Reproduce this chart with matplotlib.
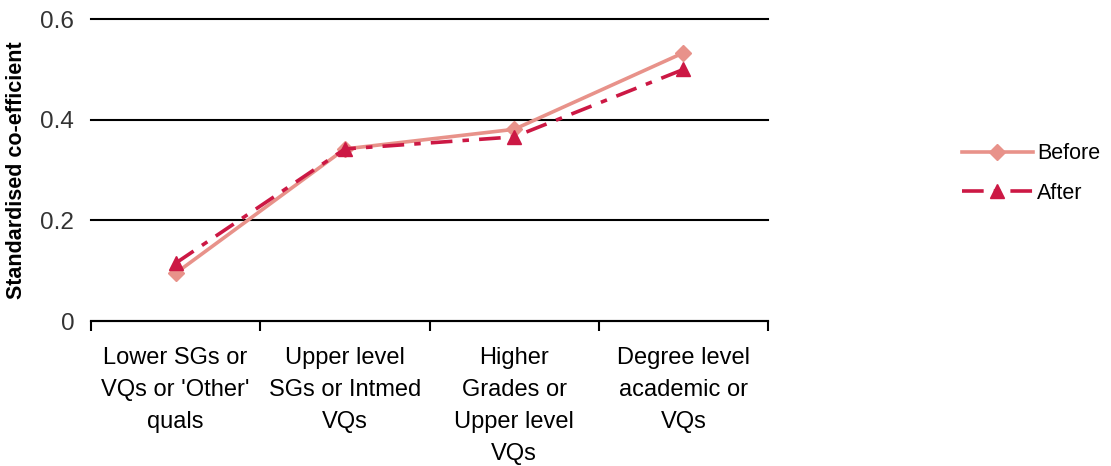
import numpy as np
import matplotlib.pyplot as plt

plt.rcParams['font.family'] = ['Liberation Sans', 'DejaVu Sans']

categories = ["Lower SGs or\nVQs or 'Other'\nquals",
              "Upper level\nSGs or Intmed\nVQs",
              "Higher\nGrades or\nUpper level\nVQs",
              "Degree level\nacademic or\nVQs"]
before = [0.095, 0.342, 0.381, 0.533]
after = [0.115, 0.342, 0.366, 0.500]

fig = plt.figure(figsize=(11.11, 4.66), dpi=100)
ax = fig.add_axes([0.0819, 0.311, 0.6094, 0.648])

x = np.arange(len(categories))
ax.plot(x, before, color='#E8928A', lw=2.6, marker='D', ms=8, label='Before')
ax.plot(x, after, color='#CC1844', lw=2.6, marker='^', ms=10,
        dashes=(6, 2.8, 1.8, 2.8), label='After')

ax.set_xlim(-0.5, 3.5)
ax.set_ylim(0, 0.6)
ax.set_yticks([0, 0.2, 0.4, 0.6])
ax.set_yticklabels(['0', '0.2', '0.4', '0.6'])
ax.yaxis.grid(True, color='black', lw=1.5)
for gl in ax.get_ygridlines():
    gl.set_clip_on(False)
ax.set_axisbelow(True)

ax.set_xticks(x)
ax.set_xticklabels(categories, fontsize=17, linespacing=1.58, va='top')
ax.set_xticks(np.arange(-0.5, 4, 1), minor=True)
ax.tick_params(axis='x', which='major', length=0, pad=19)
ax.tick_params(axis='x', which='minor', length=7, width=1.5, direction='out')
ax.tick_params(axis='y', length=0, labelsize=17.5, labelcolor='#333333', pad=12)

for s in ['top', 'right', 'left']:
    ax.spines[s].set_visible(False)
ax.spines['bottom'].set_linewidth(1.5)

ax.set_ylabel('Standardised co-efficient', fontsize=15.5, fontweight='bold', labelpad=10)

fig.legend(loc='center left', bbox_to_anchor=(0.848, 0.628), frameon=False,
           fontsize=15.5, handlelength=3.3, labelspacing=0.85, handletextpad=0.2)

fig.savefig('out.png', dpi=100)
